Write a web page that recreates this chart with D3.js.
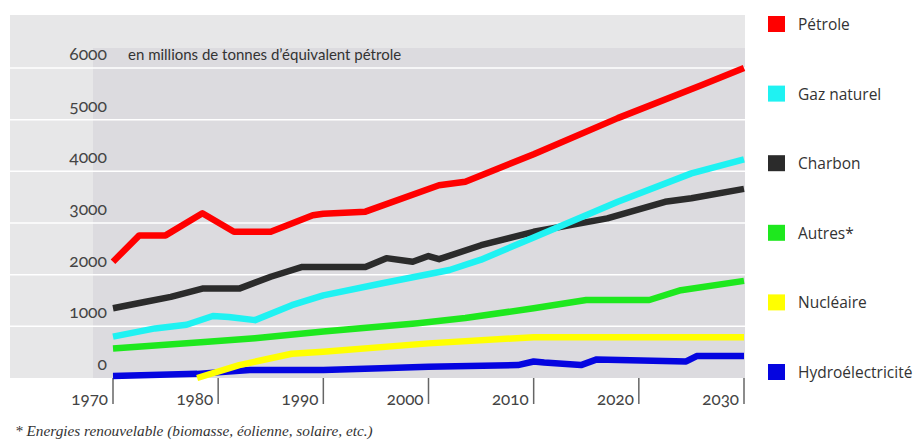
<!DOCTYPE html>
<html>
<head>
<meta charset="utf-8">
<script src="https://d3js.org/d3.v7.min.js"></script>
<style>
  body { margin: 0; background: #fff; }
  svg text { font-family: Lato, "Open Sans", sans-serif; fill: #333; }
</style>
</head>
<body>
<svg id="chart" width="922" height="441"></svg>
<script>
// séries : [année, millions de tep]
const petrole = [[1970,2250],[1972.5,2760],[1975,2760],[1978.5,3190],[1981.5,2830],[1985,2830],[1989,3150],[1990,3180],[1994,3220],[2001,3730],[2003.5,3800],[2010,4330],[2018,5030],[2026,5670],[2030,6000]];
const gaz = [[1970,800],[1974,960],[1977,1030],[1979.5,1200],[1981,1180],[1983.5,1120],[1987,1410],[1990,1600],[1995.5,1830],[2002,2090],[2005,2290],[2010,2720],[2018,3410],[2025,3960],[2030,4230]];
const charbon = [[1970,1350],[1973,1470],[1975.5,1570],[1978.5,1730],[1982,1730],[1985,1960],[1988,2150],[1994,2150],[1996,2320],[1998.5,2250],[2000,2360],[2001,2300],[2005,2570],[2010,2830],[2017,3090],[2022.5,3410],[2025,3480],[2030,3660]];
const autres = [[1970,570],[1979,700],[1983.5,770],[1990,900],[1999,1060],[2003.5,1160],[2010,1350],[2015,1510],[2021,1510],[2024,1700],[2030,1880]];
const nucleaire = [[1978,0],[1982,250],[1987,470],[1990,510],[2000,670],[2010,790],[2030,790]];
const hydro = [[1970,40],[1978,80],[1983,155],[1990,155],[1995.5,190],[2000,220],[2008.5,250],[2010,320],[2011,300],[2014.5,250],[2016,360],[2024.5,320],[2025.5,425],[2030,425]];

const seriesNames = ['Pétrole', 'Gaz naturel', 'Charbon', 'Autres*', 'Nucléaire', 'Hydroélectricité'];
const seriesColors = ['#ff0000', '#1ff2f2', '#2b2b2b', '#1ee81e', '#ffff00', '#0505e0'];
const seriesData = [petrole, gaz, charbon, autres, nucleaire, hydro];

const yTicks = [0, 1000, 2000, 3000, 4000, 5000, 6000];
const xTicks = [1970, 1980, 1990, 2000, 2010, 2020, 2030];

const svg = d3.select('#chart');

const x = d3.scaleLinear().domain([1970, 2030]).range([113, 744]);
const y = d3.scaleLinear().domain([0, 6000]).range([378, 68]);

// fonds
svg.append('rect').attr('x', 10).attr('y', 15).attr('width', 735).attr('height', 363).attr('fill', '#e7e7e8');
svg.append('rect').attr('x', 93).attr('y', 48).attr('width', 652).attr('height', 330).attr('fill', '#dcdbdf');

// grille
svg.append('g').selectAll('line')
  .data(yTicks.filter(d => d > 0))
  .enter().append('line')
  .attr('x1', 10).attr('x2', 745)
  .attr('y1', d => y(d)).attr('y2', d => y(d))
  .attr('stroke', '#fff').attr('stroke-width', 1.5);

// étiquettes y
svg.append('g').selectAll('text')
  .data(yTicks)
  .enter().append('text')
  .attr('x', 107).attr('y', d => y(d) - 8)
  .attr('text-anchor', 'end')
  .style('font-size', '17.5px')
  .style('fill', '#444')
  .style('font-variant-numeric', 'oldstyle-nums')
  .text(d => d);

svg.append('text')
  .attr('x', 128).attr('y', 60)
  .style('font-size', '15px')
  .text('en millions de tonnes d\u2019équivalent pétrole');

// axe x
const xg = svg.append('g').selectAll('g')
  .data(xTicks)
  .enter().append('g');
xg.append('line')
  .attr('x1', d => x(d)).attr('x2', d => x(d))
  .attr('y1', 378).attr('y2', 404)
  .attr('stroke', '#666').attr('stroke-width', 1.5);
xg.append('text')
  .attr('x', d => x(d) - 5).attr('y', 405)
  .attr('text-anchor', 'end')
  .style('font-size', '17px')
  .style('fill', '#444')
  .style('font-variant-numeric', 'oldstyle-nums')
  .text(d => d);

// courbes
const line = d3.line().x(d => x(d[0])).y(d => y(d[1]));
svg.append('g').selectAll('path')
  .data(seriesData.slice().reverse())
  .enter().append('path')
  .attr('d', line)
  .attr('fill', 'none')
  .attr('stroke', (d, i) => seriesColors[seriesColors.length - 1 - i])
  .attr('stroke-width', 6.5)
  .attr('stroke-linejoin', 'round');

// légende
const leg = svg.append('g').selectAll('g')
  .data(seriesNames)
  .enter().append('g')
  .attr('transform', (d, i) => `translate(768,${24 + i * 69.6})`);
leg.append('rect')
  .attr('x', 0).attr('y', -8).attr('width', 17).attr('height', 16)
  .attr('fill', (d, i) => seriesColors[i]);
leg.append('text')
  .attr('x', 30).attr('y', 6)
  .style('font-family', '"Open Sans", Lato, sans-serif')
  .style('font-size', '15.5px')
  .text(d => d);

// note
svg.append('text')
  .attr('x', 15).attr('y', 436)
  .style('font-family', '"Liberation Serif", "DejaVu Serif", serif')
  .style('font-style', 'italic')
  .style('font-size', '15.3px')
  .text('* Energies renouvelable (biomasse, éolienne, solaire, etc.)');
</script>
</body>
</html>
